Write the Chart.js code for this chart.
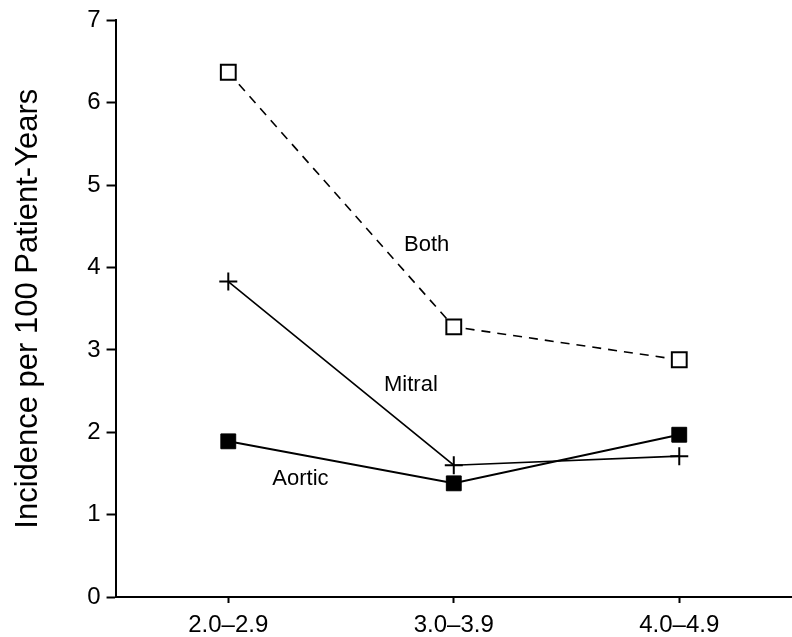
<!DOCTYPE html>
<html>
<head>
<meta charset="utf-8">
<script src="https://cdn.jsdelivr.net/npm/chart.js@4/dist/chart.umd.min.js"></script>
<style>
  html, body { margin: 0; padding: 0; background: #fff; }
  #wrap { width: 792px; height: 637px; }
</style>
</head>
<body>
<div id="wrap"><canvas id="c" width="792" height="637"></canvas></div>
<script>
// categories and series
const ranges = ['2.0\u20132.9', '3.0\u20133.9', '4.0\u20134.9'];
const both   = [6.37, 3.28, 2.88];
const mitral = [3.83, 1.60, 1.71];
const aortic = [1.89, 1.38, 1.97];
const yTicks = [0, 1, 2, 3, 4, 5, 6, 7];

// in-plot series labels: [text, category position, value]
const seriesLabels = [
  ['Both',   0.88, 4.28],
  ['Mitral', 0.81, 2.57],
  ['Aortic', 0.32, 1.43],
];

const FONT = "'Liberation Sans', Arial, sans-serif";

const labelPlugin = {
  id: 'seriesLabels',
  afterDatasetsDraw(chart) {
    const { ctx, scales: { x, y } } = chart;
    ctx.save();
    ctx.fillStyle = '#000';
    ctx.font = `22px ${FONT}`;
    ctx.textAlign = 'center';
    ctx.textBaseline = 'middle';
    seriesLabels.forEach(([t, cx, cy]) => {
      ctx.fillText(t, x.getPixelForValue(cx), y.getPixelForValue(cy));
    });
    ctx.restore();
  }
};

new Chart(document.getElementById('c'), {
  type: 'line',
  data: {
    labels: ranges,
    datasets: [
      {
        label: 'Both', data: both,
        borderColor: '#000', borderWidth: 1.6, borderDash: [9, 7],
        pointStyle: 'rect', pointRadius: 10.5, pointBorderWidth: 2,
        pointBackgroundColor: '#fff', pointBorderColor: '#000',
      },
      {
        label: 'Mitral', data: mitral,
        borderColor: '#000', borderWidth: 1.6,
        pointStyle: 'cross', pointRadius: 9, pointBorderWidth: 2,
        pointBorderColor: '#000',
      },
      {
        label: 'Aortic', data: aortic,
        borderColor: '#000', borderWidth: 2,
        pointStyle: 'rect', pointRadius: 10.5, pointBorderWidth: 1,
        pointBackgroundColor: '#000', pointBorderColor: '#000',
      },
    ],
  },
  options: {
    responsive: false,
    animation: false,
    layout: { autoPadding: false, padding: { top: 8, right: 0, bottom: -10, left: 10 } },
    plugins: { legend: { display: false }, tooltip: { enabled: false } },
    scales: {
      x: {
        type: 'category',
        offset: true,
        grid: { display: true, drawOnChartArea: false, offset: false, tickLength: 6, color: '#000', tickWidth: 2 },
        border: { color: '#000', width: 2 },
        ticks: { color: '#000', font: { family: FONT, size: 24, lineHeight: 1 }, padding: 10, maxRotation: 0 },
      },
      y: {
        min: 0, max: 7,
        afterBuildTicks: s => { s.ticks = yTicks.map(v => ({ value: v })); },
        grid: { display: true, drawOnChartArea: false, tickLength: 9, color: '#000', tickWidth: 2 },
        border: { color: '#000', width: 2 },
        ticks: { color: '#000', font: { family: FONT, size: 24 }, padding: 6 },
        title: {
          display: true, text: 'Incidence per 100 Patient-Years',
          color: '#000', font: { family: FONT, size: 31 }, padding: { top: 0, bottom: 34 },
        },
      },
    },
  },
  plugins: [labelPlugin],
});
</script>
</body>
</html>
